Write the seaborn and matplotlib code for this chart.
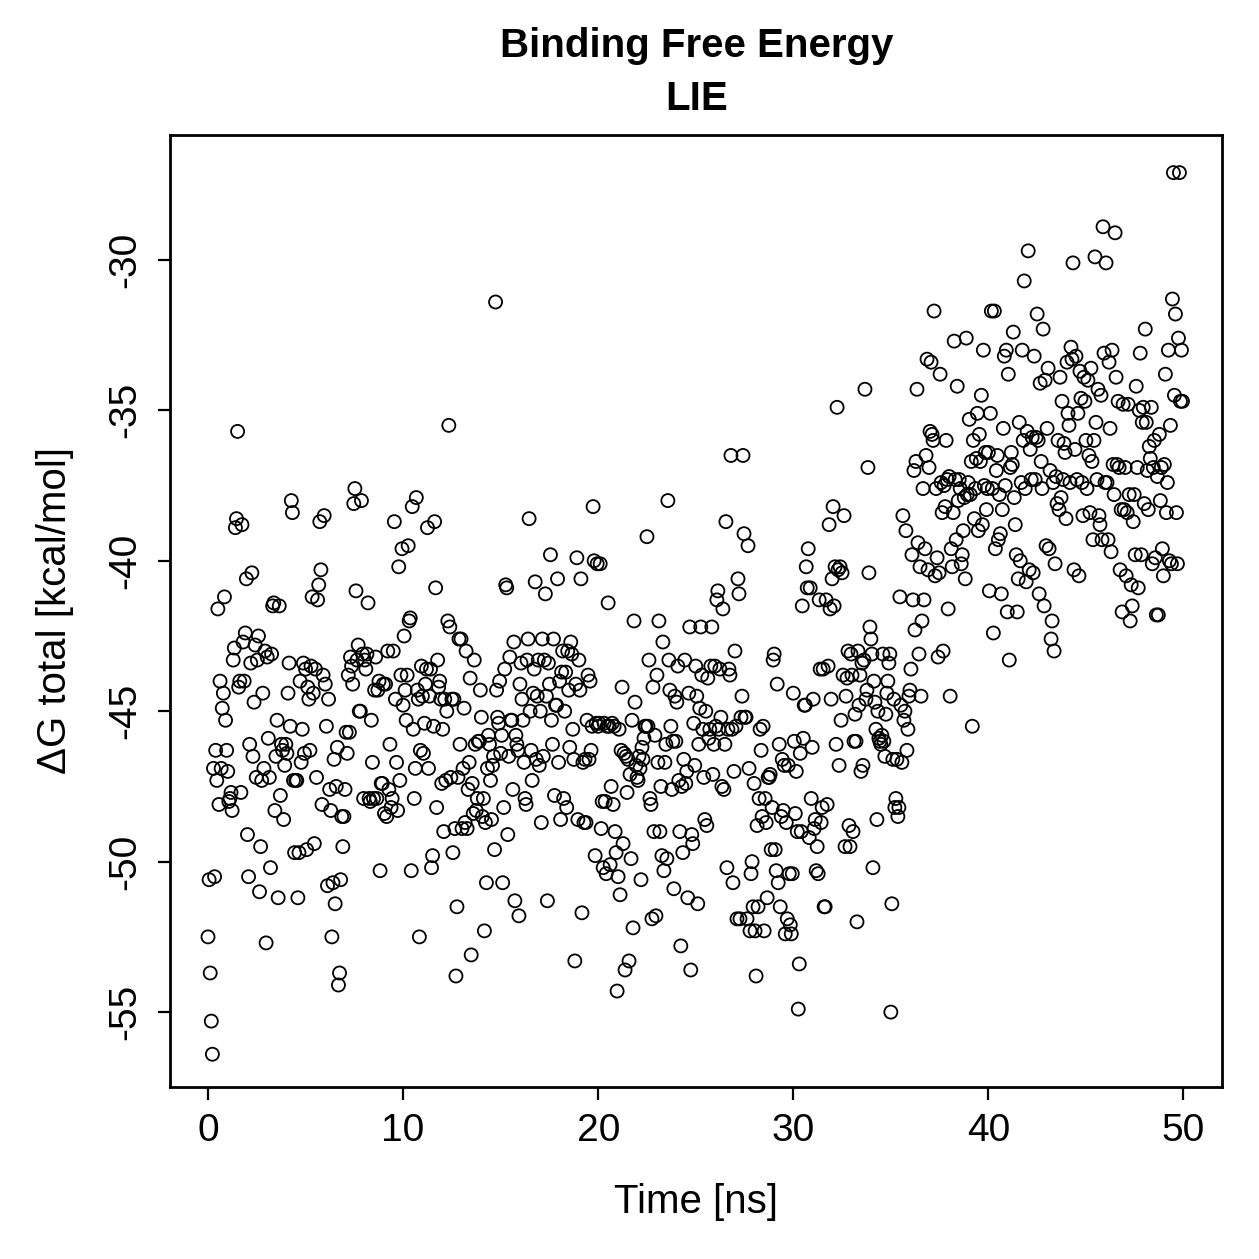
import numpy as np
import pandas as pd
import matplotlib
matplotlib.use("Agg")
import matplotlib.pyplot as plt
import seaborn as sns

# dG values, in time order, one list per 5 ns block
dg_00_05 = [-52.5, -50.6, -53.7, -55.3, -56.4, -46.9, -50.5, -46.3, -47.3, -41.6, -48.1, -44.0, -46.9, -44.9, -44.4,
            -41.2, -45.3, -46.3, -47.0, -48.0, -47.9, -47.7, -48.3, -43.3, -42.9, -38.9, -38.6, -35.7, -44.2, -44.0,
            -47.7, -38.8, -42.7, -44.0, -42.4, -40.6, -49.1, -50.5, -46.1, -43.4, -40.4, -46.5, -44.7, -42.8, -47.2,
            -43.3, -42.5, -51.0, -49.5, -47.3, -44.4, -46.9, -43.0, -52.7, -43.2, -45.9, -47.2, -50.2, -43.1, -41.5,
            -41.4, -48.3, -46.5, -45.3, -51.2, -41.5, -47.8, -46.1, -46.3, -48.6, -46.8, -46.1, -46.4, -44.4, -43.4,
            -45.5, -38.0, -38.4, -47.3, -49.7, -47.3, -47.3, -51.2, -49.7, -44.0, -46.7, -45.6, -43.4, -46.4]
dg_05_10 = [-43.6, -49.6, -44.2, -44.6, -46.3, -43.5, -41.2, -44.4, -49.4, -43.6, -47.2, -41.3, -40.8, -38.7, -40.3,
            -48.1, -43.8, -38.5, -44.1, -45.5, -50.8, -44.6, -47.6, -48.3, -52.5, -50.7, -46.6, -51.4, -47.5, -46.2,
            -54.1, -53.7, -50.6, -48.5, -49.5, -48.5, -47.6, -45.7, -46.4, -43.8, -45.7, -43.2, -43.5, -44.1, -38.1,
            -37.6, -41.0, -43.3, -42.8, -45.0, -45.0, -38.0, -43.1, -47.9, -43.3, -43.6, -43.1, -41.4, -47.9, -48.0,
            -45.3, -46.7, -47.9, -44.3, -43.2, -47.9, -44.3, -44.0, -50.3, -47.4, -47.4, -44.1, -48.4, -44.1, -48.5,
            -43.0, -47.6, -46.1, -48.2, -47.9, -43.0, -38.7, -44.6, -46.7, -48.3, -40.2, -47.3, -43.8, -39.6]
dg_10_15 = [-44.8, -42.5, -44.3, -45.3, -43.8, -39.5, -42.0, -41.9, -50.3, -38.2, -45.6, -47.9, -46.9, -37.9, -44.3,
            -44.6, -52.5, -46.3, -43.5, -44.5, -46.4, -45.4, -44.1, -43.6, -38.9, -46.9, -44.5, -43.6, -50.2, -49.8,
            -45.5, -38.7, -40.9, -48.2, -43.3, -44.2, -44.0, -44.6, -47.4, -45.6, -49.0, -44.6, -47.3, -45.0, -42.0,
            -35.5, -42.2, -47.2, -44.6, -49.7, -44.6, -48.9, -53.8, -51.5, -47.2, -42.6, -46.1, -42.6, -48.9, -46.9,
            -44.9, -48.7, -43.0, -48.9, -47.6, -46.7, -43.9, -53.1, -47.4, -48.4, -43.3, -46.1, -48.3, -47.9, -46.0,
            -46.0, -44.3, -45.2, -48.5, -47.9, -52.3, -48.7, -50.7, -46.9, -45.8, -46.1, -47.3, -48.6, -46.8, -46.5,
            -49.6, -31.4, -44.3, -45.2, -45.4, -44.0]
dg_15_20 = [-46.4, -45.8, -50.7, -48.2, -43.6, -40.8, -40.9, -49.1, -46.5, -43.2, -45.3, -45.3, -47.6, -42.7, -51.3,
            -45.8, -46.1, -46.3, -51.8, -44.1, -43.4, -44.6, -45.3, -46.7, -47.9, -48.1, -43.3, -42.6, -38.6, -45.0,
            -46.3, -47.3, -44.4, -43.6, -40.7, -46.6, -44.5, -43.3, -46.8, -45.0, -48.7, -42.6, -46.5, -43.3, -41.1,
            -44.5, -51.3, -43.4, -44.1, -39.8, -45.3, -46.1, -42.6, -47.8, -44.8, -44.8, -40.6, -46.7, -44.0, -48.6,
            -43.7, -43.0, -47.9, -45.0, -43.7, -48.2, -43.0, -44.3, -46.2, -42.7, -43.1, -45.6, -46.6, -53.3, -44.1,
            -39.9, -48.6, -43.3, -44.3, -40.6, -51.7, -46.7, -48.7, -46.6, -48.7, -45.3, -43.8, -46.6, -44.0, -46.3,
            -45.5, -38.2, -40.0, -49.8, -45.4, -40.1]
dg_20_25 = [-45.5, -45.4, -40.1, -48.9, -48.0, -50.2, -45.4, -48.0, -50.4, -45.5, -41.4, -45.5, -50.1, -47.5, -45.4,
            -48.1, -45.5, -49.0, -49.7, -54.3, -50.5, -45.6, -51.1, -46.3, -44.2, -49.4, -46.4, -53.6, -46.5, -47.7,
            -46.6, -53.3, -47.1, -49.9, -45.3, -52.2, -42.0, -44.7, -46.8, -47.2, -47.3, -46.5, -46.9, -50.6, -46.2,
            -46.6, -45.9, -45.5, -45.5, -39.2, -45.5, -43.3, -47.9, -48.1, -51.9, -44.2, -49.0, -45.8, -51.8, -43.8,
            -46.7, -42.0, -49.0, -47.5, -49.8, -42.7, -50.3, -46.7, -46.1, -49.9, -38.0, -43.3, -44.3, -45.5, -47.6,
            -46.0, -50.9, -44.5, -46.0, -44.7, -43.5, -47.3, -49.0, -52.8, -47.5, -49.7, -46.6, -43.3, -47.4, -47.0,
            -51.2, -44.4, -42.2, -53.6, -49.1, -49.4, -45.4, -46.8]
dg_25_30 = [-43.5, -44.5, -51.4, -46.1, -44.9, -42.2, -43.8, -45.6, -47.2, -48.6, -45.0, -48.8, -43.9, -45.9, -45.6,
            -43.5, -42.2, -47.1, -46.1, -43.5, -45.5, -41.3, -41.0, -45.6, -43.6, -45.2, -47.5, -41.6, -47.6, -46.1,
            -38.7, -50.2, -45.6, -43.6, -43.8, -36.5, -45.6, -50.7, -47.0, -43.0, -45.5, -51.9, -40.6, -41.1, -51.9,
            -45.2, -44.5, -36.5, -39.1, -45.2, -45.2, -51.9, -39.5, -46.9, -52.3, -50.4, -50.0, -51.5, -47.4, -52.3,
            -53.8, -48.8, -51.5, -47.9, -45.6, -46.3, -48.5, -45.5, -52.3, -47.9, -48.7, -51.2, -47.2, -47.2, -47.1,
            -49.6, -48.2, -43.3, -43.1, -49.6, -50.3, -44.1, -50.7, -46.1, -51.5, -48.5, -46.6, -48.3, -46.8, -52.4,
            -48.7, -51.9, -46.8, -50.4, -52.1, -52.4, -50.4]
dg_30_35 = [-44.4, -46.0, -48.4, -47.0, -49.0, -54.9, -53.4, -46.4, -49.0, -41.5, -45.9, -44.8, -44.8, -40.2, -40.9,
            -39.6, -49.2, -40.9, -47.9, -46.2, -44.6, -48.9, -48.6, -50.3, -49.5, -50.4, -41.3, -43.6, -48.7, -48.2,
            -43.6, -51.5, -51.5, -41.3, -48.1, -43.5, -38.8, -41.6, -44.6, -40.6, -38.2, -41.5, -40.2, -46.1, -34.9,
            -40.3, -46.8, -40.2, -45.3, -40.4, -43.8, -38.5, -49.5, -44.5, -43.9, -43.0, -48.8, -49.5, -43.1, -43.8,
            -49.0, -46.0, -45.1, -46.0, -52.0, -43.0, -44.8, -43.8, -47.0, -43.4, -46.8, -43.3, -34.3, -44.6, -44.3,
            -36.9, -40.4, -42.2, -42.6, -43.1, -50.2, -44.0, -44.7, -45.6, -48.6, -45.0, -45.9, -46.0, -46.1, -45.8,
            -43.1, -46.0, -46.5, -45.1, -44.4, -44.0, -43.4, -43.1]
dg_35_40 = [-55.0, -51.4, -46.6, -44.6, -48.2, -47.9, -46.6, -48.5, -48.2, -41.2, -44.8, -46.7, -38.5, -45.3, -45.0,
            -39.0, -46.3, -45.6, -44.5, -44.3, -43.6, -39.8, -41.3, -37.0, -42.3, -36.7, -34.3, -39.4, -43.1, -40.2,
            -44.5, -42.0, -37.6, -41.3, -39.6, -36.5, -33.3, -40.3, -36.9, -35.7, -33.4, -35.8, -36.0, -31.7, -40.5,
            -37.6, -39.9, -43.2, -40.4, -33.8, -37.4, -38.4, -43.0, -37.5, -38.2, -36.0, -37.3, -41.6, -37.2, -44.5,
            -39.6, -40.2, -38.4, -32.7, -37.3, -39.3, -34.2, -38.0, -37.3, -37.6, -40.1, -39.8, -39.0, -37.9, -40.6,
            -32.6, -37.8, -37.4, -35.3, -37.8, -36.7, -45.5, -36.0, -38.6, -37.6, -36.6, -35.1, -39.0, -35.8, -36.7,
            -34.5, -38.8, -33.0, -37.5, -36.4, -38.3, -37.6]
dg_40_45 = [-36.4, -41.0, -35.1, -31.7, -37.6, -42.4, -31.7, -39.6, -37.0, -36.5, -39.3, -37.8, -39.1, -41.1, -38.3,
            -35.6, -33.2, -37.5, -33.0, -41.7, -33.8, -43.3, -36.9, -36.4, -36.8, -32.4, -37.9, -38.8, -39.8, -41.7,
            -40.6, -35.4, -40.0, -37.4, -33.0, -36.0, -30.7, -37.6, -40.7, -35.7, -29.7, -40.3, -36.3, -37.3, -35.9,
            -40.4, -33.2, -37.3, -35.9, -31.8, -36.0, -41.1, -34.1, -36.7, -37.6, -32.3, -41.5, -34.0, -39.5, -35.6,
            -33.6, -39.6, -37.0, -42.6, -42.0, -37.4, -43.0, -40.1, -37.2, -38.1, -36.0, -38.3, -33.9, -37.9, -34.7,
            -37.3, -36.1, -36.4, -38.6, -33.4, -35.1, -35.5, -37.4, -32.9, -33.3, -30.1, -40.3, -36.3, -33.2, -37.3,
            -35.1, -40.5, -33.7, -34.6, -37.4, -38.5, -33.9, -34.7]
dg_45_50 = [-36.0, -37.6, -34.0, -36.5, -38.4, -33.6, -36.7, -39.3, -36.0, -29.9, -35.4, -37.3, -34.3, -38.5, -38.8,
            -34.5, -39.3, -28.9, -33.1, -37.4, -30.1, -37.4, -39.3, -33.4, -35.6, -39.7, -33.0, -36.8, -37.8, -29.1,
            -33.9, -36.8, -34.7, -36.9, -40.3, -38.3, -41.7, -34.8, -38.3, -36.9, -40.5, -38.4, -34.8, -37.8, -42.0,
            -40.8, -41.5, -38.7, -37.8, -39.8, -34.2, -36.9, -40.9, -35.0, -33.1, -39.8, -35.4, -34.9, -38.1, -32.3,
            -35.4, -37.0, -38.3, -36.2, -36.6, -34.9, -40.1, -36.9, -36.0, -39.9, -41.8, -37.2, -41.8, -35.8, -38.0,
            -36.9, -39.6, -40.5, -36.8, -33.8, -38.4, -37.4, -33.0, -40.0, -35.5, -40.1, -31.3, -27.1, -34.5, -31.8,
            -38.4, -40.1, -32.6, -27.1, -34.7, -33.0, -34.7]

blocks = [dg_00_05, dg_05_10, dg_10_15, dg_15_20, dg_20_25,
          dg_25_30, dg_30_35, dg_35_40, dg_40_45, dg_45_50]
block_ns = 5.0

rows = []
for i, vals in enumerate(blocks):
    # frames are sampled evenly inside each block
    t = np.linspace(i * block_ns, (i + 1) * block_ns, len(vals), endpoint=False)
    rows.append(pd.DataFrame({"time": t, "dG": vals}))
df = pd.concat(rows, ignore_index=True)

sns.set_style("ticks")
plt.rcParams["font.family"] = ["Liberation Sans", "DejaVu Sans"]
plt.rcParams["axes.unicode_minus"] = False
for key in ["text.color", "axes.labelcolor", "xtick.color", "ytick.color", "axes.edgecolor"]:
    plt.rcParams[key] = "black"

fig = plt.figure(figsize=(6.295, 6.295), dpi=200)
ax = fig.add_axes([0.135, 0.1366, 0.836, 0.7564])

sns.scatterplot(data=df, x="time", y="dG", ax=ax, marker="o", s=22,
                facecolors="none", edgecolor="black", linewidth=0.65, legend=False)

ax.set_xlim(-1.95, 52.0)
ax.set_ylim(-57.49, -25.84)
ax.set_xticks([0, 10, 20, 30, 40, 50])
ax.set_yticks([-55, -50, -45, -40, -35, -30])
ax.tick_params(direction="out", length=4.5, width=0.8, labelsize=14, color="black", pad=5)
for lab in ax.get_yticklabels():
    lab.set_rotation(90)
    lab.set_va("center")
for sp in ax.spines.values():
    sp.set_visible(True)
    sp.set_linewidth(1.0)
    sp.set_color("black")

ax.set_xlabel("Time [ns]", fontsize=14.5, labelpad=12)
ax.set_ylabel("ΔG total [kcal/mol]", fontsize=14.5, labelpad=12)
ax.set_title("Binding Free Energy\nLIE", fontsize=14.5, fontweight="bold", pad=9, linespacing=1.5)

fig.savefig("out.png", dpi=200)
